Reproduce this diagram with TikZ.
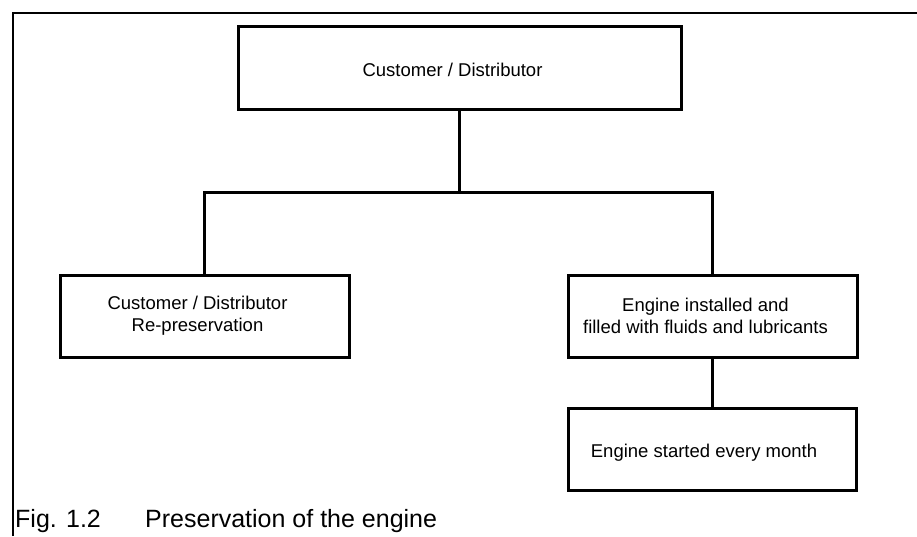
\documentclass[tikz,border=0pt]{standalone}
\usepackage{fontspec}
\setmainfont{Liberation Sans}
\usetikzlibrary{calc}
\begin{document}
\begin{tikzpicture}[x=1pt,y=-1pt,
  box/.style={draw, line width=3pt, rectangle, inner sep=0pt, minimum width=#1, minimum height=82pt},
  box/.default=289pt,
  lbl/.style={font=\fontsize{18.5}{22}\selectfont, align=center, xshift=-7pt},
  conn/.style={line width=3pt},
  framestyle/.style={line width=2.3pt},
  captext/.style={font=\fontsize{25}{29}\selectfont, anchor=base west, inner sep=0pt}]
\useasboundingbox (0,0) rectangle (917,536);
% frame
\coordinate (fbl) at (13,536);
\coordinate (ftl) at (13,13);
\coordinate (ftr) at (917,13);
\draw[framestyle] (fbl) -- (ftl) -- (ftr);
% boxes
\node[box=443pt, minimum height=83pt, label={[lbl, yshift=-2pt]center:Customer / Distributor}] (top) at (459.5,67.5) {};
\node[box, label={[lbl]center:Customer / Distributor\\Re-preservation}] (left) at (204.5,316) {};
\node[box, label={[lbl]center:Engine installed and\\filled with fluids and lubricants}] (right) at (712.5,316) {};
\node[box=288pt, label={[lbl, xshift=-1pt, yshift=-4pt]center:Engine started every month}] (bot) at (712,449) {};
% connectors
\coordinate (bus) at (459.5,192);
\draw[conn] (top.south) -- (bus);
\draw[conn] (left.north) |- (bus) -| (right.north);
\draw[conn] (right.south) -- (right.south |- bot.north);
% caption
\node[captext] (fig) at (15,527) {Fig. 1.2};
\node[captext] (title) at (145,527) {Preservation of the engine};
\end{tikzpicture}
\end{document}
